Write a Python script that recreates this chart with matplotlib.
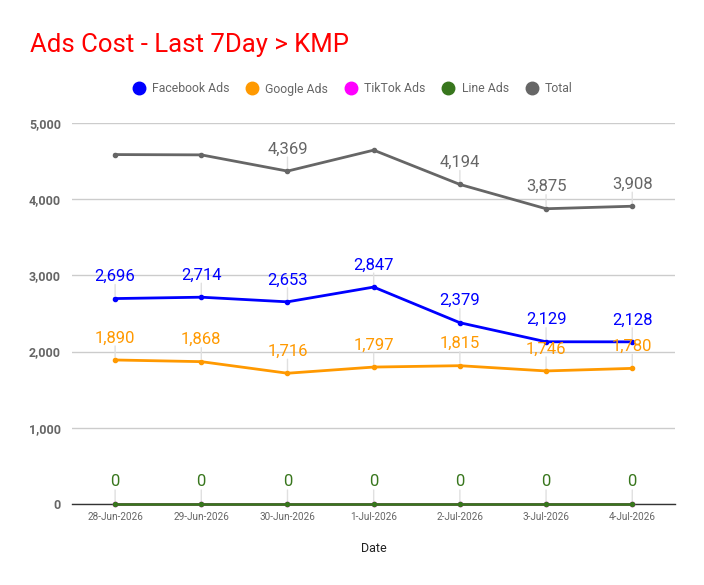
import matplotlib.pyplot as plt
from matplotlib.lines import Line2D

plt.rcParams['font.family'] = ['Roboto', 'DejaVu Sans']

dates = ["28-Jun-2026", "29-Jun-2026", "30-Jun-2026", "1-Jul-2026",
         "2-Jul-2026", "3-Jul-2026", "4-Jul-2026"]
facebook = [2696, 2714, 2653, 2847, 2379, 2129, 2128]
google = [1890, 1868, 1716, 1797, 1815, 1746, 1780]
tiktok = [0, 0, 0, 0, 0, 0, 0]
line_ads = [0, 0, 0, 0, 0, 0, 0]
total = [4586, 4582, 4369, 4644, 4194, 3875, 3908]

# which points got a data label in the original (the rest were hidden)
total_labelled = [2, 4, 5, 6]
y_ticks = [0, 1000, 2000, 3000, 4000, 5000]

series = [
    ("Facebook Ads", facebook, "#0000ff", range(len(dates))),
    ("Google Ads", google, "#ff9900", range(len(dates))),
    ("TikTok Ads", tiktok, "#ff00ff", []),
    ("Line Ads", line_ads, "#38761d", range(len(dates))),
    ("Total", total, "#666666", total_labelled),
]

fig = plt.figure(figsize=(7.04, 5.85), dpi=100)
ax = fig.add_axes([0.1023, 0.1385, 0.857, 0.6512])

x = list(range(len(dates)))
for name, vals, color, labelled in series:
    ax.plot(x, vals, color=color, lw=2, marker="o", ms=3, zorder=3,
            clip_on=False)
    for i in labelled:
        ax.annotate(f"{vals[i]:,}", (x[i], vals[i]), xytext=(0, 22),
                    textcoords="offset pixels", ha="center", va="center",
                    fontsize=12, color=color, zorder=4)
        ax.annotate("", (x[i], vals[i]), xytext=(0, 14),
                    textcoords="offset pixels",
                    arrowprops=dict(arrowstyle="-", color="#e0e0e0", lw=1,
                                    shrinkA=0, shrinkB=2), zorder=2)

ax.set_xlim(-0.5, len(dates) - 0.5)
ax.set_ylim(0, 5000)
ax.set_yticks(y_ticks)
ax.set_yticklabels([f"{v:,}" for v in y_ticks], fontsize=9, fontweight="bold",
                   color="#666666")
ax.set_xticks(x)
ax.set_xticklabels(dates, fontsize=7.2, color="#666666")
ax.tick_params(length=0, pad=8)
ax.tick_params(axis="x", pad=6)
ax.grid(axis="y", color="#cccccc", lw=1)
ax.set_axisbelow(True)
for s in ["top", "right", "left"]:
    ax.spines[s].set_visible(False)
ax.spines["bottom"].set_color("#333333")
ax.spines["bottom"].set_linewidth(1)

ax.set_xlabel("Date", fontsize=9, color="#222222", labelpad=14)

fig.text(30 / 704, 1 - 45 / 585, "Ads Cost - Last 7Day > KMP", fontsize=18.5,
         color="#ff0000", ha="left", va="center")

handles = [Line2D([], [], ls="", marker="o", ms=9, color=c) for _, _, c, _ in series]
fig.legend(handles, [n for n, _, _, _ in series], loc="center",
           bbox_to_anchor=(352 / 704, 1 - 89 / 585), ncol=5, frameon=False,
           fontsize=8.8, labelcolor="#666666", handletextpad=0.5,
           columnspacing=1.3, handlelength=1.15)

fig.savefig("out.png", dpi=100)
